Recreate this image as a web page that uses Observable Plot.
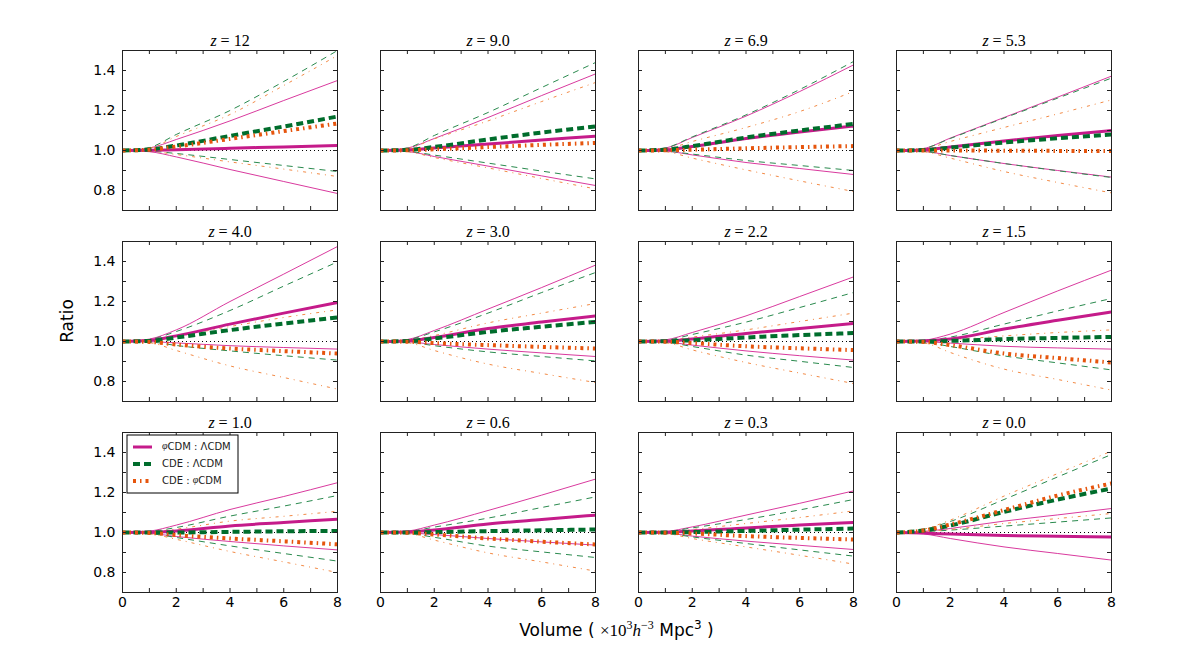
<!DOCTYPE html>
<html><head><meta charset="utf-8">
<script src="https://cdn.jsdelivr.net/npm/d3@7"></script>
<script src="https://cdn.jsdelivr.net/npm/@observablehq/plot@0.6"></script>
<style>body{margin:0;background:#fff}#chart svg{overflow:visible}</style>
</head><body><div id="chart"></div>
<script>
// ---------- data ----------
const redshifts = ["12","9.0","6.9","5.3","4.0","3.0","2.2","1.5","1.0","0.6","0.3","0.0"];
const volumes = [0, 1, 2, 4, 6, 8];           // x (10^3 h^-3 Mpc^3)
const xTickLabels = [0, 2, 4, 6, 8];
const yTickLabels = [0.8, 1.0, 1.2, 1.4];
const xTicks = [0, 1, 2, 3, 4, 5, 6, 7, 8];
const yTicks = [0.7, 0.8, 0.9, 1.0, 1.1, 1.2, 1.3, 1.4, 1.5];

// phiCDM : LambdaCDM  (mean, upper, lower) per panel, values at volumes
const phiMean = [
  [1, 1.001, 1.004, 1.011, 1.018, 1.025],[1, 1.002, 1.012, 1.032, 1.052, 1.072],[1, 1.003, 1.020, 1.060, 1.093, 1.122],[1, 1.003, 1.017, 1.048, 1.075, 1.100],
  [1, 1.005, 1.028, 1.087, 1.142, 1.195],[1, 1.003, 1.020, 1.065, 1.097, 1.128],[1, 1.002, 1.012, 1.040, 1.065, 1.090],[1, 1.002, 1.012, 1.062, 1.106, 1.148],
  [1, 1.001, 1.008, 1.033, 1.050, 1.067],[1, 1.002, 1.012, 1.042, 1.065, 1.087],[1, 1.001, 1.007, 1.023, 1.037, 1.050],[1, 0.997, 0.992, 0.985, 0.981, 0.978]];
const phiHi = [
  [1, 1.012, 1.055, 1.148, 1.250, 1.350],[1, 1.012, 1.060, 1.165, 1.275, 1.383],[1, 1.012, 1.065, 1.172, 1.295, 1.428],[1, 1.010, 1.062, 1.165, 1.267, 1.372],
  [1, 1.012, 1.058, 1.200, 1.337, 1.475],[1, 1.010, 1.055, 1.162, 1.270, 1.382],[1, 1.008, 1.045, 1.128, 1.225, 1.323],[1, 1.006, 1.037, 1.145, 1.253, 1.357],
  [1, 1.007, 1.037, 1.115, 1.180, 1.249],[1, 1.007, 1.037, 1.110, 1.187, 1.267],[1, 1.005, 1.028, 1.087, 1.146, 1.208],[1, 1.005, 1.020, 1.057, 1.088, 1.120]];
const phiLo = [
  [1, 0.994, 0.968, 0.905, 0.845, 0.785],[1, 0.995, 0.970, 0.922, 0.873, 0.825],[1, 0.997, 0.978, 0.940, 0.910, 0.880],[1, 0.996, 0.975, 0.935, 0.900, 0.867],
  [1, 0.999, 0.993, 0.979, 0.970, 0.962],[1, 0.998, 0.985, 0.962, 0.943, 0.925],[1, 0.997, 0.982, 0.953, 0.929, 0.907],[1, 0.999, 0.992, 0.976, 0.968, 0.962],
  [1, 0.996, 0.980, 0.955, 0.933, 0.913],[1, 0.998, 0.990, 0.970, 0.953, 0.937],[1, 0.997, 0.982, 0.957, 0.936, 0.915],[1, 0.993, 0.970, 0.928, 0.895, 0.862]];

// CDE : LambdaCDM
const cdeLMean = [
  [1, 1.005, 1.025, 1.073, 1.120, 1.170],[1, 1.003, 1.018, 1.055, 1.090, 1.120],[1, 1.004, 1.022, 1.065, 1.100, 1.133],[1, 1.002, 1.014, 1.040, 1.061, 1.080],
  [1, 1.003, 1.020, 1.057, 1.090, 1.120],[1, 1.002, 1.015, 1.048, 1.074, 1.098],[1, 1.001, 1.006, 1.020, 1.032, 1.042],[1, 1.000, 1.003, 1.012, 1.018, 1.023],
  [1, 1.000, 1.000, 1.003, 1.006, 1.008],[1, 1.000, 1.002, 1.007, 1.011, 1.015],[1, 1.000, 1.002, 1.008, 1.014, 1.020],[1, 1.010, 1.035, 1.103, 1.165, 1.220]];
const cdeLHi = [
  [1, 1.015, 1.080, 1.200, 1.345, 1.500],[1, 1.013, 1.075, 1.190, 1.315, 1.440],[1, 1.013, 1.068, 1.178, 1.305, 1.445],[1, 1.010, 1.060, 1.162, 1.262, 1.362],
  [1, 1.010, 1.050, 1.155, 1.277, 1.398],[1, 1.009, 1.048, 1.142, 1.245, 1.345],[1, 1.006, 1.035, 1.097, 1.170, 1.245],[1, 1.004, 1.022, 1.087, 1.153, 1.215],
  [1, 1.005, 1.025, 1.082, 1.132, 1.185],[1, 1.005, 1.027, 1.072, 1.125, 1.178],[1, 1.004, 1.023, 1.065, 1.113, 1.165],[1, 1.015, 1.055, 1.165, 1.278, 1.390]];
const cdeLLo = [
  [1, 0.997, 0.985, 0.955, 0.925, 0.895],[1, 0.996, 0.977, 0.937, 0.897, 0.858],[1, 0.997, 0.982, 0.950, 0.925, 0.900],[1, 0.996, 0.975, 0.935, 0.899, 0.865],
  [1, 0.998, 0.980, 0.953, 0.929, 0.907],[1, 0.997, 0.979, 0.948, 0.925, 0.903],[1, 0.996, 0.975, 0.932, 0.901, 0.870],[1, 0.996, 0.975, 0.928, 0.893, 0.858],
  [1, 0.995, 0.975, 0.933, 0.895, 0.857],[1, 0.996, 0.976, 0.932, 0.903, 0.875],[1, 0.996, 0.978, 0.945, 0.913, 0.882],[1, 1.004, 1.012, 1.032, 1.052, 1.073]];

// CDE : phiCDM
const cdePMean = [
  [1, 1.004, 1.020, 1.058, 1.097, 1.135],[1, 1.001, 1.006, 1.017, 1.028, 1.038],[1, 1.001, 1.004, 1.011, 1.017, 1.022],[1, 1.000, 1.000, 0.999, 0.998, 0.997],
  [1, 0.998, 0.985, 0.965, 0.952, 0.940],[1, 0.999, 0.992, 0.982, 0.973, 0.965],[1, 0.999, 0.992, 0.976, 0.966, 0.957],[1, 0.998, 0.982, 0.940, 0.917, 0.895],
  [1, 0.998, 0.987, 0.970, 0.956, 0.941],[1, 0.999, 0.990, 0.970, 0.954, 0.940],[1, 0.999, 0.995, 0.982, 0.973, 0.965],[1, 1.010, 1.040, 1.112, 1.185, 1.245]];
const cdePHi = [
  [1, 1.012, 1.070, 1.180, 1.325, 1.475],[1, 1.010, 1.058, 1.148, 1.245, 1.340],[1, 1.008, 1.045, 1.115, 1.195, 1.295],[1, 1.008, 1.045, 1.115, 1.183, 1.253],
  [1, 1.004, 1.025, 1.075, 1.120, 1.158],[1, 1.005, 1.030, 1.093, 1.142, 1.190],[1, 1.004, 1.022, 1.058, 1.100, 1.142],[1, 1.002, 1.008, 1.028, 1.045, 1.058],
  [1, 1.003, 1.017, 1.057, 1.081, 1.106],[1, 1.002, 1.013, 1.043, 1.064, 1.085],[1, 1.003, 1.015, 1.045, 1.075, 1.108],[1, 1.016, 1.062, 1.182, 1.295, 1.407]];
const cdePLo = [
  [1, 0.996, 0.980, 0.943, 0.907, 0.870],[1, 0.994, 0.965, 0.913, 0.860, 0.808],[1, 0.994, 0.962, 0.903, 0.848, 0.795],[1, 0.994, 0.962, 0.895, 0.840, 0.788],
  [1, 0.994, 0.955, 0.878, 0.820, 0.762],[1, 0.994, 0.955, 0.887, 0.840, 0.795],[1, 0.994, 0.958, 0.895, 0.842, 0.790],[1, 0.993, 0.945, 0.862, 0.810, 0.757],
  [1, 0.994, 0.966, 0.905, 0.853, 0.800],[1, 0.995, 0.962, 0.898, 0.853, 0.807],[1, 0.995, 0.970, 0.928, 0.886, 0.842],[1, 1.005, 1.015, 1.045, 1.070, 1.095]];

// ---------- styles ----------
const C = {
  magenta: "#c51b8a", magentaThin: "#d93a9e",
  green: "#006d2c", greenThin: "#2a8a4e",
  orange: "#e6550d", orangeThin: "#f38a45"
};
const series = [
  {key: "phiHi", values: phiHi, stroke: C.magentaThin, width: 1, dash: null},
  {key: "phiLo", values: phiLo, stroke: C.magentaThin, width: 1, dash: null},
  {key: "cdeLHi", values: cdeLHi, stroke: C.greenThin, width: 1, dash: "6,5"},
  {key: "cdeLLo", values: cdeLLo, stroke: C.greenThin, width: 1, dash: "6,5"},
  {key: "cdePHi", values: cdePHi, stroke: C.orangeThin, width: 1, dash: "3,5,1,5"},
  {key: "cdePLo", values: cdePLo, stroke: C.orangeThin, width: 1, dash: "3,5,1,5"},
  {key: "phiMean", values: phiMean, stroke: C.magenta, width: 3, dash: null},
  {key: "cdeLMean", values: cdeLMean, stroke: C.green, width: 4, dash: "7,4"},
  {key: "cdePMean", values: cdePMean, stroke: C.orange, width: 4, dash: "3,4,1.5,4"}
];

const rows = [];
series.forEach(s => s.values.forEach((arr, p) => arr.forEach((v, j) =>
  rows.push({series: s.key, panel: p, col: p % 4, row: Math.floor(p / 4), x: volumes[j], y: v}))));
const panels = redshifts.map((z, p) => ({col: p % 4, row: Math.floor(p / 4), title: "z = " + z}));

// ---------- layout ----------
const W = 1196, H = 654;
const mL = 122, mR = 85, mT = 50, mB = 62;
const panelW = 215, gapX = 43, panelH = 160, gapY = 31;
const tick = 4;
const sans = "'DejaVu Sans', sans-serif";
const serif = "'Liberation Serif', 'DejaVu Serif', serif";

const marks = [
  Plot.ruleY([1], {stroke: "#000", strokeWidth: 1, strokeDasharray: "1,3"}),
  ...series.map(s => Plot.line(rows.filter(r => r.series === s.key), {
    x: "x", y: "y", z: "panel", fx: "col", fy: "row",
    stroke: s.stroke, strokeWidth: s.width, strokeDasharray: s.dash,
    strokeLinecap: "butt", strokeLinejoin: "round", curve: "monotone-x", clip: true
  })),
  Plot.tickX(xTicks, {x: d => d, insetTop: panelH - tick, stroke: "#222"}),
  Plot.tickX(xTicks, {x: d => d, insetBottom: panelH - tick, stroke: "#222"}),
  Plot.tickY(yTicks, {y: d => d, insetRight: panelW - tick, stroke: "#222"}),
  Plot.tickY(yTicks, {y: d => d, insetLeft: panelW - tick, stroke: "#222"}),
  Plot.frame({stroke: "#222", strokeWidth: 1}),
  Plot.axisX(xTickLabels, {anchor: "bottom", tickSize: 0, tickPadding: 5, label: null, fontSize: 14, fill: "#000"}),
  Plot.axisY(yTickLabels, {anchor: "left", tickSize: 0, tickPadding: 7, label: null, fontSize: 14, fill: "#000",
    tickFormat: d => d.toFixed(1)}),
  Plot.text(panels, {fx: "col", fy: "row", text: "title", frameAnchor: "top", lineAnchor: "middle",
    dy: -10, fontSize: 16, fontFamily: serif, fill: "#000"})
];

const svg = Plot.plot({
  width: W, height: H,
  marginLeft: mL, marginRight: mR, marginTop: mT, marginBottom: mB,
  x: {domain: [0, 8]},
  y: {domain: [0.7, 1.5]},
  fx: {domain: [0, 1, 2, 3], axis: null, paddingInner: gapX / (panelW + gapX), paddingOuter: 0, round: false},
  fy: {domain: [0, 1, 2], axis: null, paddingInner: gapY / (panelH + gapY), paddingOuter: 0, round: false},
  style: {fontFamily: "DejaVu Sans, sans-serif", fontSize: "14px", color: "#000", background: "#fff"},
  marks
});
document.getElementById("chart").appendChild(svg);

const root = d3.select(svg);
// panel titles (the only Plot.text mark): serif with italic z
root.selectAll('g[aria-label="text"] text').each(function() {
  const t = this.textContent;
  const rest = t.replace(/^z/, "");
  const el = d3.select(this);
  el.text(null).style("font-family", serif).style("font-size", "16px").style("font-weight", "normal");
  el.append("tspan").style("font-style", "italic").text("z");
  el.append("tspan").text(rest);
});

// y label
root.append("text")
  .attr("transform", `translate(${mL - 54},${mT + (H - mT - mB) / 2}) rotate(-90)`)
  .attr("text-anchor", "middle").attr("dominant-baseline", "middle")
  .style("font-family", sans).style("font-size", "17px").attr("fill", "#000")
  .text("Ratio");

// x label
const xl = root.append("text")
  .attr("x", mL + (W - mL - mR) / 2).attr("y", H - 18)
  .attr("text-anchor", "middle")
  .style("font-family", sans).style("font-size", "17px").attr("fill", "#000");
xl.append("tspan").text("Volume ( ");
xl.append("tspan").style("font-family", serif).text("×10");
xl.append("tspan").style("font-family", serif).style("font-size", "12px").attr("dy", -7).text("3");
xl.append("tspan").style("font-family", serif).style("font-style", "italic").attr("dy", 7).text("h");
xl.append("tspan").style("font-family", serif).style("font-size", "12px").attr("dy", -7).text("−3");
xl.append("tspan").attr("dy", 7).text(" Mpc");
xl.append("tspan").style("font-size", "12px").attr("dy", -7).text("3");
xl.append("tspan").attr("dy", 7).text(" )");

// legend in panel z=1.0 (column 0, row 2)
const legX = mL + 5, legY = mT + 2 * (panelH + gapY) + 3;
const leg = root.append("g").attr("transform", `translate(${legX},${legY})`);
leg.append("rect").attr("width", 111).attr("height", 58)
  .attr("fill", "#fff").attr("stroke", "#000").attr("stroke-width", 1);
const legItems = [
  {stroke: C.magenta, width: 3, dash: null, parts: [["φ", true], ["CDM : ΛCDM", false]]},
  {stroke: C.green, width: 4, dash: "7,4", parts: [["CDE : ΛCDM", false]]},
  {stroke: C.orange, width: 4, dash: "3,4,1.5,4", parts: [["CDE : ", false], ["φ", true], ["CDM", false]]}
];
legItems.forEach((it, i) => {
  const y = 12 + i * 17;
  leg.append("line").attr("x1", 6).attr("x2", 25).attr("y1", y).attr("y2", y)
    .attr("stroke", it.stroke).attr("stroke-width", it.width)
    .attr("stroke-dasharray", it.dash).attr("stroke-linecap", "butt");
  const t = leg.append("text").attr("x", 35).attr("y", y)
    .attr("text-anchor", "start").attr("dominant-baseline", "middle")
    .style("font-family", sans).style("font-size", "10px").attr("fill", "#222");
  it.parts.forEach(([s, ital]) => {
    const sp = t.append("tspan").text(s);
    if (ital) sp.style("font-style", "italic").style("font-family", serif);
  });
});
</script>
</body></html>
